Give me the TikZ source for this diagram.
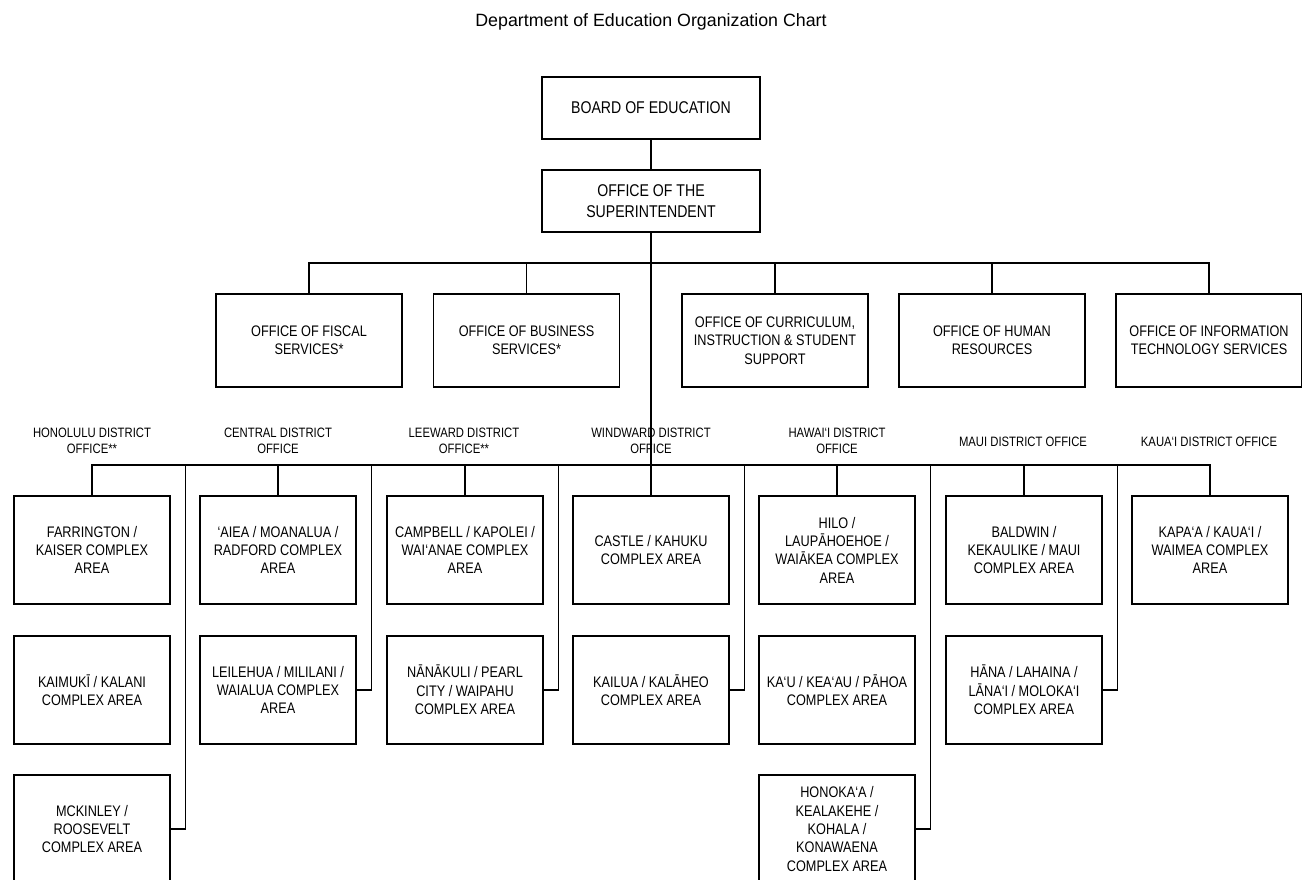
\documentclass[tikz,border=0pt]{standalone}
\usepackage{fontspec}
\setmainfont{Liberation Sans}
\newfontfamily\chartfont{Liberation Sans}[FakeStretch=0.83]
\newcommand{\titlefont}{\fontsize{17.8pt}{21pt}\selectfont}
\newcommand{\topfont}{\chartfont\fontsize{17pt}{20.7pt}\selectfont}
\newcommand{\boxfont}{\chartfont\fontsize{15.3pt}{18.3pt}\selectfont}
\newcommand{\distfont}{\chartfont\fontsize{13.6pt}{16pt}\selectfont}

\begin{document}
\begin{tikzpicture}[x=1pt, y=-1pt, line width=1.1pt,
	top/.style={draw, font=\topfont, align=center, minimum width=218pt, minimum height=62pt, inner sep=0pt},
	office/.style={draw, font=\boxfont, align=center, minimum width=186pt, minimum height=93pt, inner sep=0pt},
	area/.style={draw, font=\boxfont, align=center, minimum width=156pt, minimum height=108pt, inner sep=0pt},
	district/.style={font=\distfont, align=center, inner sep=0pt}]

\useasboundingbox (0,0) rectangle (1302,879);

\node[font=\titlefont] (title) at (651,22) {Department of Education Organization Chart};

% ================= Top =================
\node[top] (board) at (651,108) {BOARD OF EDUCATION};
\node[top] (supt) at (651,201) {OFFICE OF THE\\SUPERINTENDENT};

% ================= Offices =================
\node[office] (fiscal) at (309,340.5) {OFFICE OF FISCAL\\SERVICES*};
\node[office] (business) at (526.5,340.5) {OFFICE OF BUSINESS\\SERVICES*};
\node[office] (curric) at (775,340.5) {OFFICE OF CURRICULUM,\\INSTRUCTION \& STUDENT\\SUPPORT};
\node[office] (hr) at (992,340.5) {OFFICE OF HUMAN\\RESOURCES};
\node[office] (its) at (1209,340.5) {OFFICE OF INFORMATION\\TECHNOLOGY SERVICES};
\coordinate (obus) at (651,263);

% ================= District offices =================
\node[district] (honolulu) at (92,441) {HONOLULU DISTRICT\\OFFICE**};
\node[district] (central) at (278,441) {CENTRAL DISTRICT\\OFFICE};
\node[district] (leeward) at (464,441) {LEEWARD DISTRICT\\OFFICE**};
\node[district] (windward) at (651,441) {WINDWARD DISTRICT\\OFFICE};
\node[district] (hawaii) at (837,441) {HAWAI‘I DISTRICT\\OFFICE};
\node[district] (maui) at (1023,442) {MAUI DISTRICT OFFICE};
\node[district] (kauai) at (1209,442) {KAUA‘I DISTRICT OFFICE};
\coordinate (dbus) at (651,465);

% complex areas, first row
\node[area] (farrington) at (92,550) {FARRINGTON /\\KAISER COMPLEX\\AREA};
\node[area] (aiea) at (278,550) {‘AIEA / MOANALUA /\\RADFORD COMPLEX\\AREA};
\node[area] (campbell) at (465,550) {CAMPBELL / KAPOLEI /\\WAI‘ANAE COMPLEX\\AREA};
\node[area] (castle) at (651,550) {CASTLE / KAHUKU\\COMPLEX AREA};
\node[area] (hilo) at (837,550) {HILO /\\LAUPĀHOEHOE /\\WAIĀKEA COMPLEX\\AREA};
\node[area] (baldwin) at (1024,550) {BALDWIN /\\KEKAULIKE / MAUI\\COMPLEX AREA};
\node[area] (kapaa) at (1210,550) {KAPA‘A / KAUA‘I /\\WAIMEA COMPLEX\\AREA};

% second row
\node[area] (kaimuki) at (92,690) {KAIMUKĪ / KALANI\\COMPLEX AREA};
\node[area] (leilehua) at (278,690) {LEILEHUA / MILILANI /\\WAIALUA COMPLEX\\AREA};
\node[area] (nanakuli) at (465,690) {NĀNĀKULI / PEARL\\CITY / WAIPAHU\\COMPLEX AREA};
\node[area] (kailua) at (651,690) {KAILUA / KALĀHEO\\COMPLEX AREA};
\node[area] (kau) at (837,690) {KA‘U / KEA‘AU / PĀHOA\\COMPLEX AREA};
\node[area] (hana) at (1024,690) {HĀNA / LAHAINA /\\LĀNA‘I / MOLOKA‘I\\COMPLEX AREA};

% third row
\node[area] (mckinley) at (92,829) {MCKINLEY /\\ROOSEVELT\\COMPLEX AREA};
\node[area] (honokaa) at (837,829) {HONOKA‘A /\\KEALAKEHE /\\KOHALA /\\KONAWAENA\\COMPLEX AREA};

% ================= Connectors =================
\draw (board) -- (supt);
\draw (supt) -- (castle);
\draw (fiscal.north) |- (obus) -| (its.north);
\foreach \n in {business,curric,hr}
	\draw (\n.north) -- (\n.north |- obus);
\draw (farrington.north) |- (dbus) -| (kapaa.north);
\foreach \n in {aiea,campbell,hilo,baldwin}
	\draw (\n.north) -- (\n.north |- dbus);
\foreach \n in {leilehua,nanakuli,kailua,hana,mckinley,honokaa}
	\draw (\n.east) -- ++(15,0) coordinate (t) -- (t |- dbus);

\end{tikzpicture}
\end{document}
